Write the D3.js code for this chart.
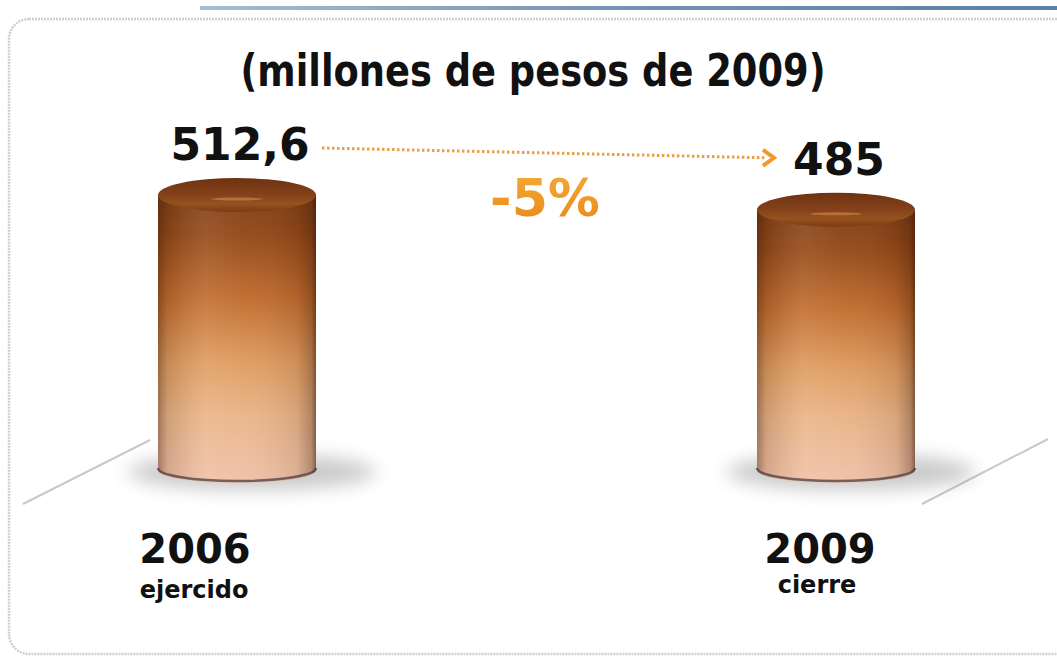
<!DOCTYPE html>
<html>
<head>
<meta charset="utf-8">
<script src="https://cdn.jsdelivr.net/npm/d3@7"></script>
<style>
  html, body { margin: 0; padding: 0; background: #ffffff; }
  svg { display: block; }
</style>
</head>
<body>
<svg id="chart" width="1057" height="660"></svg>
<script>
// Budget, millions of 2009 pesos
const years = ["2006", "2009"];
const stages = ["ejercido", "cierre"];
const values = [512.6, 485];
const valueLabels = ["512,6", "485"];
const changeLabel = "-5%";
const title = "(millones de pesos de 2009)";

const W = 1057, H = 660;
const svg = d3.select("#chart");
const defs = svg.append("defs");

// ---- scales ----
const x = d3.scalePoint().domain(years).range([237, 836]);
const xLabel = d3.scalePoint().domain(years).range([195, 820]);
const baseY = 470;
const y = d3.scaleLinear().domain([0, 512.6]).range([baseY, 195]);
const rx = 79, ryTop = 17, ryBot = 13;

// ---- gradients / filters ----
const topBar = defs.append("linearGradient").attr("id", "topBar").attr("x1", 0).attr("x2", 1);
topBar.append("stop").attr("offset", 0).attr("stop-color", "#a9bccf");
topBar.append("stop").attr("offset", 0.5).attr("stop-color", "#7393b3");
topBar.append("stop").attr("offset", 1).attr("stop-color", "#5b7fa6");

const body = defs.append("linearGradient").attr("id", "bodyV").attr("x1", 0).attr("x2", 0).attr("y1", 0).attr("y2", 1);
[[0, "#7e3e15"], [0.14, "#924818"], [0.36, "#c06c2e"], [0.58, "#de9c60"], [0.76, "#e9b488"], [1, "#f0c2aa"]]
  .forEach(([o, c]) => body.append("stop").attr("offset", o).attr("stop-color", c));

const side = defs.append("linearGradient").attr("id", "bodyH").attr("x1", 0).attr("x2", 1);
[[0, "rgba(50,20,10,0.40)"], [0.06, "rgba(60,25,10,0.15)"], [0.3, "rgba(255,240,220,0.10)"],
 [0.55, "rgba(255,240,220,0.04)"], [0.88, "rgba(60,25,10,0.10)"], [0.97, "rgba(50,20,10,0.30)"], [1, "rgba(40,15,5,0.55)"]]
  .forEach(([o, c]) => side.append("stop").attr("offset", o).attr("stop-color", c));

const cap = defs.append("linearGradient").attr("id", "cap").attr("x1", 0).attr("x2", 0).attr("y1", 0).attr("y2", 1);
[[0, "#6e3211"], [0.5, "#84421a"], [0.75, "#96511f"], [1, "#7e3b14"]]
  .forEach(([o, c]) => cap.append("stop").attr("offset", o).attr("stop-color", c));

const pct = defs.append("linearGradient").attr("id", "pct").attr("x1", 0).attr("x2", 0).attr("y1", 0).attr("y2", 1);
pct.append("stop").attr("offset", 0).attr("stop-color", "#f4ac38");
pct.append("stop").attr("offset", 1).attr("stop-color", "#e8861a");

defs.append("filter").attr("id", "blur8").attr("x", "-50%").attr("y", "-50%").attr("width", "200%").attr("height", "200%")
  .append("feGaussianBlur").attr("stdDeviation", 9);
defs.append("filter").attr("id", "soft").append("feGaussianBlur").attr("stdDeviation", 0.7);

// ---- frame ----
svg.append("rect").attr("x", 200).attr("y", 6).attr("width", W - 200).attr("height", 4).attr("fill", "url(#topBar)");
svg.append("rect")
  .attr("x", 9).attr("y", 19).attr("width", W + 20).attr("height", 635).attr("rx", 20)
  .attr("fill", "#ffffff").attr("stroke", "#cfcfcf").attr("stroke-width", 2.5)
  .attr("stroke-dasharray", "2 1").attr("filter", "url(#soft)");

// ---- title ----
svg.append("text").attr("x", 533).attr("y", 86)
  .attr("text-anchor", "middle")
  .attr("font-family", "'Liberation Sans Narrow', 'DejaVu Sans Condensed', 'Open Sans', sans-serif")
  .attr("font-weight", "bold").attr("font-size", 44).attr("fill", "#111")
  .attr("textLength", 585).attr("lengthAdjust", "spacingAndGlyphs")
  .text(title);

// ---- floor lines ----
svg.append("line").attr("x1", 23).attr("y1", 504).attr("x2", 150).attr("y2", 440)
  .attr("stroke", "#c9c9c9").attr("stroke-width", 2);
svg.append("line").attr("x1", 922).attr("y1", 504).attr("x2", 1048).attr("y2", 439)
  .attr("stroke", "#c9c9c9").attr("stroke-width", 2);

// ---- cylinders ----
const g = svg.append("g").selectAll("g.cyl").data(values).join("g").attr("class", "cyl");

g.append("ellipse")
  .attr("cx", (d, i) => x(years[i]) + 15).attr("cy", baseY + 2)
  .attr("rx", rx + 45).attr("ry", 18)
  .attr("fill", "#7a7a7a").attr("opacity", 0.4).attr("filter", "url(#blur8)");

const bodyPath = (d, i) => {
  const cx = x(years[i]), yt = y(d);
  return `M${cx - rx},${yt} L${cx - rx},${baseY} A${rx},${ryBot} 0 0 0 ${cx + rx},${baseY} L${cx + rx},${yt} Z`;
};
g.append("path").attr("d", bodyPath).attr("fill", "url(#bodyV)");
g.append("path").attr("d", bodyPath).attr("fill", "url(#bodyH)");

// dark rim along the base
g.append("path")
  .attr("d", (d, i) => {
    const cx = x(years[i]);
    return `M${cx - rx},${baseY - 2} A${rx},${ryBot} 0 0 0 ${cx + rx},${baseY - 2}`;
  })
  .attr("fill", "none").attr("stroke", "#4c3c44").attr("stroke-width", 2.5).attr("opacity", 0.75);

// top cap
g.append("ellipse")
  .attr("cx", (d, i) => x(years[i])).attr("cy", d => y(d))
  .attr("rx", rx).attr("ry", ryTop)
  .attr("fill", "url(#cap)");
g.append("ellipse")
  .attr("cx", (d, i) => x(years[i])).attr("cy", d => y(d) + 4)
  .attr("rx", 26).attr("ry", 1.5)
  .attr("fill", "#c98650").attr("opacity", 0.65).attr("filter", "url(#soft)");

// ---- value labels ----
const boldFont = "'DejaVu Sans', Verdana, sans-serif";
svg.selectAll("text.val").data(values).join("text").attr("class", "val")
  .attr("x", (d, i) => x(years[i]) + 3).attr("y", d => y(d) - ryTop - 18)
  .attr("text-anchor", "middle")
  .attr("font-family", boldFont).attr("font-weight", "bold").attr("font-size", 44).attr("fill", "#111")
  .text((d, i) => valueLabels[i]);

// ---- change arrow ----
const x0 = x(years[0]) + 85, y0 = y(values[0]) - ryTop - 30;
const x1 = x(years[1]) - 62, y1 = y(values[1]) - ryTop - 32;
svg.append("line").attr("x1", x0).attr("y1", y0).attr("x2", x1 - 8).attr("y2", y1 - 3)
  .attr("stroke", "#e8952e").attr("stroke-width", 3)
  .attr("stroke-dasharray", "2.5 2.5").attr("opacity", 0.9);
svg.append("path")
  .attr("d", `M${x1 - 11},${y1 - 11} L${x1},${y1 - 3} L${x1 - 11},${y1 + 5}`)
  .attr("fill", "none").attr("stroke", "#ee9a2e").attr("stroke-width", 4).attr("stroke-linejoin", "miter");

svg.append("text").attr("x", 545).attr("y", 216)
  .attr("text-anchor", "middle")
  .attr("font-family", boldFont).attr("font-weight", "bold").attr("font-size", 52)
  .attr("fill", "url(#pct)")
  .text(changeLabel);

// ---- category labels ----
svg.selectAll("text.year").data(years).join("text").attr("class", "year")
  .attr("x", d => xLabel(d)).attr("y", 563)
  .attr("text-anchor", "middle")
  .attr("font-family", boldFont).attr("font-weight", "bold").attr("font-size", 40).attr("fill", "#111")
  .text(d => d);
svg.selectAll("text.stage").data(stages).join("text").attr("class", "stage")
  .attr("x", (d, i) => xLabel(years[i]) - 1 + (i ? -2 : 0)).attr("y", (d, i) => i ? 593 : 598)
  .attr("text-anchor", "middle")
  .attr("font-family", boldFont).attr("font-weight", "bold").attr("font-size", 24).attr("fill", "#111")
  .text(d => d);
</script>
</body>
</html>
